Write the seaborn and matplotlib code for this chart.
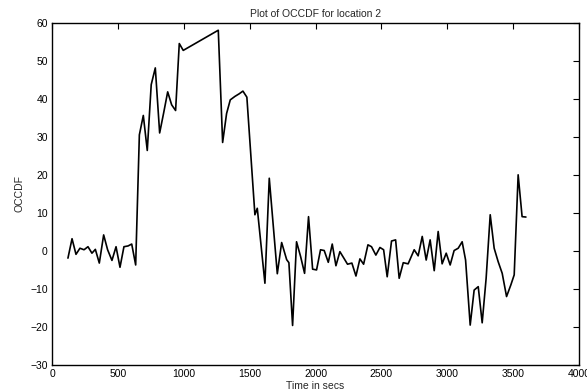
import matplotlib
matplotlib.use("Agg")
import matplotlib.pyplot as plt
import numpy as np
import pandas as pd
import seaborn as sns

# Time (s) of each OCCDF sample at location 2
time_secs = [121, 152, 182, 212, 243, 273, 303, 329, 359, 392, 422, 455, 486, 516,
             546, 577, 605, 635, 663, 693, 723, 753, 784, 817, 847, 878, 908, 938,
             966, 996, 1262, 1295, 1325, 1353, 1388, 1421, 1449, 1479, 1540, 1558,
             1616, 1649, 1710, 1743, 1781, 1798, 1826, 1856, 1887, 1917, 1947, 1978,
             2008, 2038, 2066, 2097, 2127, 2155, 2185, 2215, 2243, 2276, 2307, 2337,
             2365, 2398, 2425, 2458, 2489, 2517, 2544, 2577, 2608, 2635, 2666, 2703,
             2749, 2779, 2810, 2840, 2870, 2901, 2931, 2961, 2992, 3022, 3052, 3083,
             3113, 3139, 3174, 3204, 3235, 3265, 3295, 3326, 3356, 3386, 3417, 3450,
             3483, 3508, 3538, 3568, 3597]

# OCCDF value at each sample
occdf = [-1.9, 3.2, -0.9, 0.7, 0.3, 1.1, -0.6, 0.4, -3.2, 4.2, 0.3, -2.5, 1.1, -4.3,
         1.1, 1.3, 1.8, -3.7, 30.5, 35.6, 26.4, 43.7, 48.1, 31.0, 36.2, 41.8, 38.4, 36.9,
         54.5, 52.7, 58.0, 28.5, 36.1, 39.7, 40.6, 41.3, 42.0, 40.4, 9.5, 11.2,
         -8.5, 19.1, -6.0, 2.2, -2.3, -3.1, -19.6, 2.4, -1.5, -5.9, 9.0, -4.8,
         -5.0, 0.3, 0.1, -3.0, 1.8, -3.9, -0.2, -1.9, -3.5, -3.2, -6.6, -2.1,
         -3.5, 1.6, 1.1, -1.1, 0.9, 0.3, -6.8, 2.6, 2.9, -7.2, -3.1, -3.4,
         0.3, -1.3, 3.8, -2.4, 2.9, -5.2, 5.1, -3.4, -0.6, -3.7, 0.1, 0.7,
         2.4, -2.4, -19.5, -10.3, -9.4, -18.9, -7.2, 9.5, 0.7, -2.8, -5.9, -12.0,
         -8.9, -6.3, 20.0, 9.0, 8.9]

x_ticks = [0, 500, 1000, 1500, 2000, 2500, 3000, 3500, 4000]
x_tick_labels = ["0", "500", "1000", "1500", "2000", "2500", "3000", "3500", "4000"]
y_ticks = [-30, -20, -10, 0, 10, 20, 30, 40, 50, 60]

df = pd.DataFrame({"Time in secs": time_secs, "OCCDF": occdf})

sns.set_style("white")
plt.rcParams["font.family"] = ["Liberation Sans", "DejaVu Sans"]

fig = plt.figure(figsize=(5.87, 3.90), dpi=100)
ax = fig.add_axes([0.0886, 0.064, 0.8978, 0.878])

sns.lineplot(data=df, x="Time in secs", y="OCCDF", ax=ax, color="black",
             linewidth=1.2, sort=False, estimator=None)

ax.set_xlim(0, 4000)
ax.set_ylim(-30, 60)
ax.set_xticks(x_ticks)
ax.set_xticklabels(x_tick_labels)
ax.set_yticks(y_ticks)
ax.tick_params(direction="in", length=4, width=0.8, top=True, right=True,
               labelsize=7.5, colors="black", pad=3)

for spine in ax.spines.values():
    spine.set_visible(True)
    spine.set_color("black")
    spine.set_linewidth(1.0)

ax.set_title("Plot of OCCDF for location 2", fontsize=7.5, pad=4)
ax.set_xlabel("Time in secs", fontsize=7.5, labelpad=1)
ax.set_ylabel("OCCDF", fontsize=7.5, labelpad=4)

fig.savefig("out.png", dpi=100)
